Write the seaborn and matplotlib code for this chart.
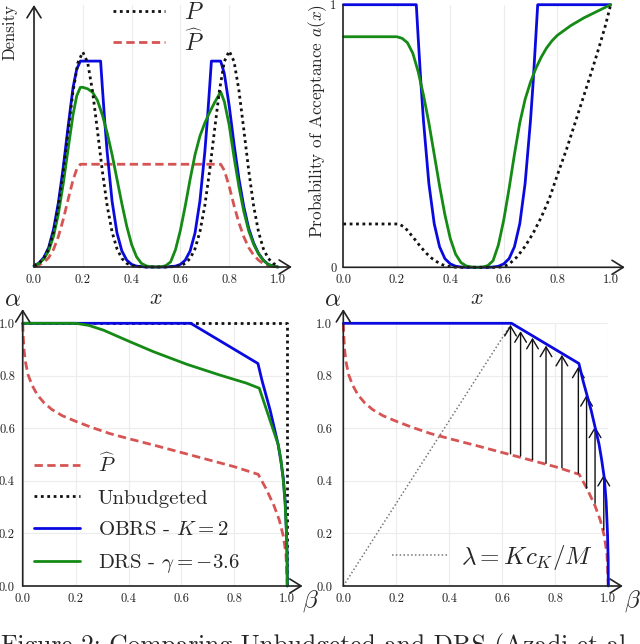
import matplotlib
matplotlib.use("Agg")
import matplotlib.pyplot as plt
import seaborn as sns
import pandas as pd

# ---------------- data: top-left (densities) ----------------
x_grid = [0.00, 0.02, 0.04, 0.06, 0.08, 0.10, 0.12, 0.14, 0.16, 0.18,
          0.20, 0.22, 0.24, 0.26, 0.28, 0.30, 0.32, 0.34, 0.36, 0.38,
          0.40, 0.42, 0.44, 0.46, 0.48, 0.50, 0.52, 0.54, 0.56, 0.58,
          0.60, 0.62, 0.64, 0.66, 0.68, 0.70, 0.72, 0.74, 0.76, 0.78,
          0.80, 0.82, 0.84, 0.86, 0.88, 0.90, 0.92, 0.94, 0.96, 0.98, 1.00]
p_density = [0.006, 0.017, 0.040, 0.085, 0.163, 0.284, 0.447, 0.635, 0.817, 0.951,
             1.000, 0.951, 0.817, 0.635, 0.447, 0.284, 0.163, 0.085, 0.040, 0.017,
             0.006, 0.002, 0.001, 0.000, 0.000, 0.000, 0.000, 0.000, 0.001, 0.002,
             0.006, 0.017, 0.040, 0.085, 0.164, 0.285, 0.449, 0.638, 0.821, 0.956,
             1.005, 0.956, 0.821, 0.638, 0.449, 0.285, 0.164, 0.085, 0.040, 0.017, 0.006]

x_phat = [0.00, 0.02, 0.04, 0.06, 0.08, 0.10, 0.12, 0.14, 0.16, 0.175, 0.19,
          0.765, 0.78, 0.80, 0.82, 0.84, 0.86, 0.88, 0.90, 0.92, 0.94, 0.96, 0.98, 1.00]
phat_density = [0.003, 0.009, 0.021, 0.043, 0.082, 0.142, 0.222, 0.315, 0.405, 0.455, 0.478,
                0.478, 0.450, 0.375, 0.285, 0.205, 0.140, 0.090, 0.056, 0.032, 0.016, 0.006, 0.002, 0.000]

x_obrs_d = [0.00, 0.02, 0.04, 0.06, 0.08, 0.10, 0.12, 0.14, 0.16, 0.175, 0.19,
            0.273, 0.28, 0.29, 0.30, 0.32, 0.34, 0.36, 0.38, 0.40, 0.42, 0.44, 0.46,
            0.54, 0.56, 0.58, 0.60, 0.62, 0.64, 0.66, 0.68, 0.70, 0.71, 0.72, 0.727,
            0.765, 0.78, 0.80, 0.82, 0.84, 0.86, 0.88, 0.90, 0.92, 0.94, 0.96, 0.98, 1.00]
obrs_density = [0.006, 0.018, 0.044, 0.090, 0.175, 0.300, 0.465, 0.655, 0.835, 0.920, 0.958,
                0.958, 0.838, 0.676, 0.533, 0.306, 0.159, 0.075, 0.032, 0.012, 0.004, 0.002, 0.000,
                0.000, 0.002, 0.004, 0.012, 0.032, 0.075, 0.159, 0.307, 0.534, 0.678, 0.840, 0.958,
                0.958, 0.900, 0.750, 0.570, 0.410, 0.280, 0.180, 0.112, 0.064, 0.032, 0.012, 0.004, 0.000]

x_drs_d = [0.00, 0.02, 0.04, 0.06, 0.08, 0.10, 0.12, 0.14, 0.16, 0.175, 0.19,
           0.20, 0.22, 0.24, 0.26, 0.28, 0.30, 0.32, 0.34, 0.36, 0.38, 0.40, 0.42, 0.44,
           0.46, 0.48, 0.50, 0.52, 0.54, 0.56, 0.58, 0.60, 0.62, 0.64, 0.66, 0.68, 0.70,
           0.72, 0.74, 0.765, 0.78, 0.80, 0.82, 0.84, 0.86, 0.88, 0.90, 0.92, 0.94, 0.96, 0.98, 1.00]
drs_density = [0.005, 0.016, 0.037, 0.075, 0.143, 0.248, 0.389, 0.551, 0.709, 0.796, 0.836,
               0.836, 0.829, 0.813, 0.775, 0.708, 0.623, 0.523, 0.409, 0.295, 0.190, 0.105, 0.048, 0.017,
               0.005, 0.001, 0.000, 0.001, 0.006, 0.024, 0.081, 0.171, 0.285, 0.409, 0.523, 0.609, 0.670,
               0.720, 0.765, 0.815, 0.770, 0.660, 0.510, 0.373, 0.258, 0.168, 0.106, 0.061, 0.031, 0.012, 0.004, 0.000]

# ---------------- data: top-right (acceptance probabilities) ----------------
x_obrs_a = [0.00, 0.273, 0.28, 0.29, 0.30, 0.32, 0.34, 0.36, 0.38, 0.40, 0.42, 0.44, 0.46,
            0.54, 0.56, 0.58, 0.60, 0.62, 0.64, 0.66, 0.68, 0.70, 0.71, 0.72, 0.727, 1.00]
obrs_accept = [1.0, 1.0, 0.875, 0.705, 0.556, 0.319, 0.166, 0.078, 0.033, 0.013, 0.004, 0.001, 0.0,
               0.0, 0.001, 0.004, 0.013, 0.033, 0.078, 0.166, 0.320, 0.558, 0.705, 0.878, 1.0, 1.0]

x_drs_a = [0.00, 0.20, 0.22, 0.24, 0.26, 0.28, 0.30, 0.32, 0.34, 0.36, 0.38, 0.40, 0.42, 0.44,
           0.46, 0.48, 0.50, 0.52, 0.54, 0.56, 0.58, 0.60, 0.62, 0.64, 0.66, 0.68, 0.70, 0.72,
           0.74, 0.76, 0.78, 0.80, 0.85, 0.90, 0.95, 1.00]
drs_accept = [0.878, 0.878, 0.872, 0.855, 0.815, 0.745, 0.655, 0.550, 0.430, 0.310, 0.200, 0.110, 0.050, 0.018,
              0.005, 0.001, 0.000, 0.001, 0.006, 0.025, 0.085, 0.180, 0.300, 0.430, 0.550, 0.640, 0.705, 0.757,
              0.800, 0.835, 0.862, 0.883, 0.920, 0.950, 0.975, 1.000]

x_unb_a = [0.00, 0.20, 0.21, 0.23, 0.25, 0.27, 0.29, 0.31, 0.33, 0.35, 0.37, 0.39, 0.41, 0.43,
           0.58, 0.60, 0.62, 0.65, 0.68, 0.71, 0.74, 0.77, 0.80, 0.835, 0.87, 0.90, 0.93, 0.96, 0.98, 1.00]
unb_accept = [0.165, 0.165, 0.164, 0.152, 0.128, 0.103, 0.077, 0.054, 0.035, 0.021, 0.010, 0.004, 0.001, 0.000,
              0.000, 0.003, 0.012, 0.040, 0.080, 0.130, 0.190, 0.260, 0.350, 0.450, 0.560, 0.655, 0.750, 0.850, 0.920, 1.000]

# ---------------- data: bottom panels (alpha vs beta) ----------------
phat_beta = [0.0, 0.002, 0.005, 0.01, 0.02, 0.035, 0.055, 0.08, 0.11, 0.15, 0.2, 0.26, 0.33,
             0.4, 0.5, 0.6, 0.7, 0.8, 0.89, 0.92, 0.95, 0.97, 0.985, 0.995, 1.0]
phat_alpha = [1.0, 0.95, 0.9, 0.855, 0.805, 0.765, 0.728, 0.698, 0.672, 0.648, 0.627, 0.604, 0.58,
              0.561, 0.535, 0.508, 0.481, 0.454, 0.425, 0.37, 0.305, 0.25, 0.19, 0.12, 0.0]

unb_beta = [0.0, 1.0, 1.0]
unb_alpha = [1.0, 1.0, 0.0]

obrs_beta = [0.0, 0.635, 0.889, 0.905, 0.92, 0.935, 0.95, 0.965, 0.975, 0.985, 0.992, 0.997, 0.9995, 1.0]
obrs_alpha = [1.0, 1.0, 0.847, 0.78, 0.725, 0.67, 0.605, 0.54, 0.48, 0.41, 0.32, 0.2, 0.1, 0.0]

drs_beta = [0.0, 0.2, 0.25, 0.305, 0.405, 0.494, 0.62, 0.745, 0.846, 0.894,
            0.92, 0.94, 0.955, 0.966, 0.976, 0.985, 0.992, 0.997, 0.9995, 1.0]
drs_alpha = [1.0, 1.0, 0.992, 0.974, 0.93, 0.892, 0.844, 0.803, 0.772, 0.753,
             0.675, 0.615, 0.57, 0.537, 0.48, 0.40, 0.31, 0.2, 0.1, 0.0]

lambda_beta = [0.0, 0.635]
lambda_alpha = [0.0, 1.0]

arrow_beta = [0.631, 0.669, 0.714, 0.765, 0.825, 0.887, 0.918, 0.950, 0.983]
arrow_from = [0.503, 0.495, 0.482, 0.467, 0.450, 0.429, 0.372, 0.315, 0.213]
arrow_to = [0.994, 0.970, 0.945, 0.915, 0.880, 0.835, 0.727, 0.607, 0.423]

x_ticks = [0.0, 0.2, 0.4, 0.6, 0.8, 1.0]
x_tick_labels = ["0.0", "0.2", "0.4", "0.6", "0.8", "1.0"]
acc_ticks = [0, 1]
acc_tick_labels = ["0", "1"]

# ---------------- style ----------------
sns.set_theme(style="whitegrid", rc={"grid.color": "#ececec", "grid.linewidth": 0.8})
plt.rcParams["font.family"] = ["cmr10", "DejaVu Serif"]
plt.rcParams["mathtext.fontset"] = "cm"
plt.rcParams["axes.unicode_minus"] = False
plt.rcParams["axes.formatter.use_mathtext"] = True

BLUE = "#0a0ae0"
GREEN = "#158a15"
RED = "#d75454"
BLACK = "#111111"
DOT = (0, (1.0, 1.3))
DASH = (0, (3.0, 1.6))
LW = 2.0

W, H = 640, 644
fig = plt.figure(figsize=(6.4, 6.44), dpi=100)


def fx(px):
    return px / W


def fy(py):
    return 1 - py / H


def add_axes(l, r, b, t):
    return fig.add_axes([fx(l), fy(b), (r - l) / W, (b - t) / H])


ax_tl = add_axes(34, 278, 267, 5)
ax_tr = add_axes(343.3, 610.7, 267.3, 4.7)
ax_bl = add_axes(22.7, 287.3, 586, 323.3)
ax_br = add_axes(343.3, 608.3, 586, 323.3)


def line(ax, x, y, color, ls="-", lw=LW, label=None, z=2):
    df = pd.DataFrame({"x": x, "y": y})
    sns.lineplot(data=df, x="x", y="y", ax=ax, color=color, linestyle=ls, lw=lw,
                 estimator=None, sort=False, errorbar=None, label=label, legend=False,
                 clip_on=False, zorder=z)
    return ax.lines[-1]


def axis_arrow(ax, xy_end, start=(0, 0)):
    ax.annotate("", xy=xy_end, xytext=start, xycoords="axes fraction",
                textcoords="axes fraction", annotation_clip=False,
                arrowprops=dict(arrowstyle="->,head_length=0.45,head_width=0.28",
                                lw=1.2, color="#222222", shrinkA=0, shrinkB=0,
                                mutation_scale=18))


def style_axes(ax, xarrow, yarrow=None, ygrid=True, ypad=2):
    for s in ax.spines.values():
        s.set_visible(False)
    ax.set_xlabel("")
    ax.set_ylabel("")
    ax.tick_params(axis="both", length=3, width=0.8, color="#333333", labelsize=9,
                   pad=2, labelcolor="#222222")
    ax.tick_params(axis="y", pad=ypad)
    ax.grid(True, axis="x")
    ax.grid(ygrid, axis="y")
    axis_arrow(ax, (xarrow, 0))
    if yarrow is not None:
        axis_arrow(ax, (0, yarrow))


# ---------------- top-left ----------------
l_p = line(ax_tl, x_grid, p_density, BLACK, DOT, z=3)
l_ph = line(ax_tl, x_phat, phat_density, RED, DASH)
line(ax_tl, x_obrs_d, obrs_density, BLUE)
line(ax_tl, x_drs_d, drs_density, GREEN)
ax_tl.set_xlim(0, 1)
ax_tl.set_ylim(0, 1.219)
ax_tl.set_xticks(x_ticks, x_tick_labels)
ax_tl.set_yticks([])
style_axes(ax_tl, 1.057, 1.0, ygrid=False)
leg = ax_tl.legend([l_p, l_ph], ["$P$", r"$\widehat{P}$"], loc="upper left",
                   bbox_to_anchor=(fx(113), fy(2)), bbox_transform=fig.transFigure,
                   frameon=False, fontsize=17, borderaxespad=0, borderpad=0,
                   handlelength=2.2, handletextpad=0.8, labelspacing=0.2)

# ---------------- top-right ----------------
line(ax_tr, x_unb_a, unb_accept, BLACK, DOT, z=3)
line(ax_tr, x_obrs_a, obrs_accept, BLUE)
line(ax_tr, x_drs_a, drs_accept, GREEN)
ax_tr.set_xlim(0, 1)
ax_tr.set_ylim(0, 1)
ax_tr.set_xticks(x_ticks, x_tick_labels)
ax_tr.set_yticks(acc_ticks, acc_tick_labels)
style_axes(ax_tr, 1.053, None, ygrid=False)
ax_tr.spines["left"].set_visible(True)
ax_tr.spines["left"].set_color("#222222")
ax_tr.spines["left"].set_linewidth(1.2)

# ---------------- bottom-left ----------------
b_ph = line(ax_bl, phat_beta, phat_alpha, RED, DASH)
b_un = line(ax_bl, unb_beta, unb_alpha, BLACK, DOT)
b_ob = line(ax_bl, obrs_beta, obrs_alpha, BLUE)
b_dr = line(ax_bl, drs_beta, drs_alpha, GREEN)
ax_bl.set_xlim(0, 1)
ax_bl.set_ylim(0, 1)
ax_bl.set_xticks(x_ticks, x_tick_labels)
ax_bl.set_yticks(x_ticks, x_tick_labels)
style_axes(ax_bl, 1.058, 1.054, ypad=2.6)
ax_bl.legend([b_ph, b_un, b_ob, b_dr],
             [r"$\widehat{P}$", "Unbudgeted", "OBRS - $K=2$", r"DRS - $\gamma=-3.6$"],
             loc="lower left", bbox_to_anchor=(fx(34), fy(575)), bbox_transform=fig.transFigure,
             frameon=False, fontsize=15, borderaxespad=0, borderpad=0,
             handlelength=2.2, handletextpad=0.85, labelspacing=0.62)

# ---------------- bottom-right ----------------
b_lam = line(ax_br, lambda_beta, lambda_alpha, "#777777", (0, (1, 1.5)), lw=1.1)
line(ax_br, phat_beta, phat_alpha, RED, DASH)
line(ax_br, obrs_beta, obrs_alpha, BLUE, z=3)
for b, a0, a1 in zip(arrow_beta, arrow_from, arrow_to):
    ax_br.annotate("", xy=(b, a1), xytext=(b, a0), xycoords="data",
                   arrowprops=dict(arrowstyle="->,head_length=0.5,head_width=0.3",
                                   lw=1.0, color="#111111", shrinkA=0, shrinkB=0,
                                   mutation_scale=14), zorder=2.5)
ax_br.set_xlim(0, 1)
ax_br.set_ylim(0, 1)
ax_br.set_xticks(x_ticks, x_tick_labels)
ax_br.set_yticks(x_ticks, x_tick_labels)
style_axes(ax_br, 1.055, 1.054, ypad=5)
ax_br.legend([b_lam], [r"$\lambda = Kc_K/M$"], loc="lower left",
             bbox_to_anchor=(fx(392), fy(572)), bbox_transform=fig.transFigure,
             frameon=False, fontsize=18, borderaxespad=0, borderpad=0,
             handlelength=2.2, handletextpad=0.55)

# ---------------- labels ----------------
fig.text(fx(10), fy(4), "Density", rotation=90, ha="center", va="top", fontsize=12)
fig.text(fx(318), fy(4), "Probability of Acceptance $a(x)$", rotation=90,
         ha="center", va="top", fontsize=12.4)
fig.text(fx(156), fy(298), "$x$", ha="center", va="center", fontsize=16)
fig.text(fx(477), fy(298), "$x$", ha="center", va="center", fontsize=16)
fig.text(fx(12.5), fy(300), r"$\alpha$", ha="center", va="center", fontsize=18)
fig.text(fx(332.5), fy(300), r"$\alpha$", ha="center", va="center", fontsize=18)
fig.text(fx(310), fy(601), r"$\beta$", ha="center", va="center", fontsize=18)
fig.text(fx(632), fy(601), r"$\beta$", ha="center", va="center", fontsize=18)
fig.text(fx(1), fy(633), "Figure 2: Comparing Unbudgeted and DRS (Azadi et al.",
         ha="left", va="top", fontsize=18.3)

fig.savefig("out.png", dpi=100)
